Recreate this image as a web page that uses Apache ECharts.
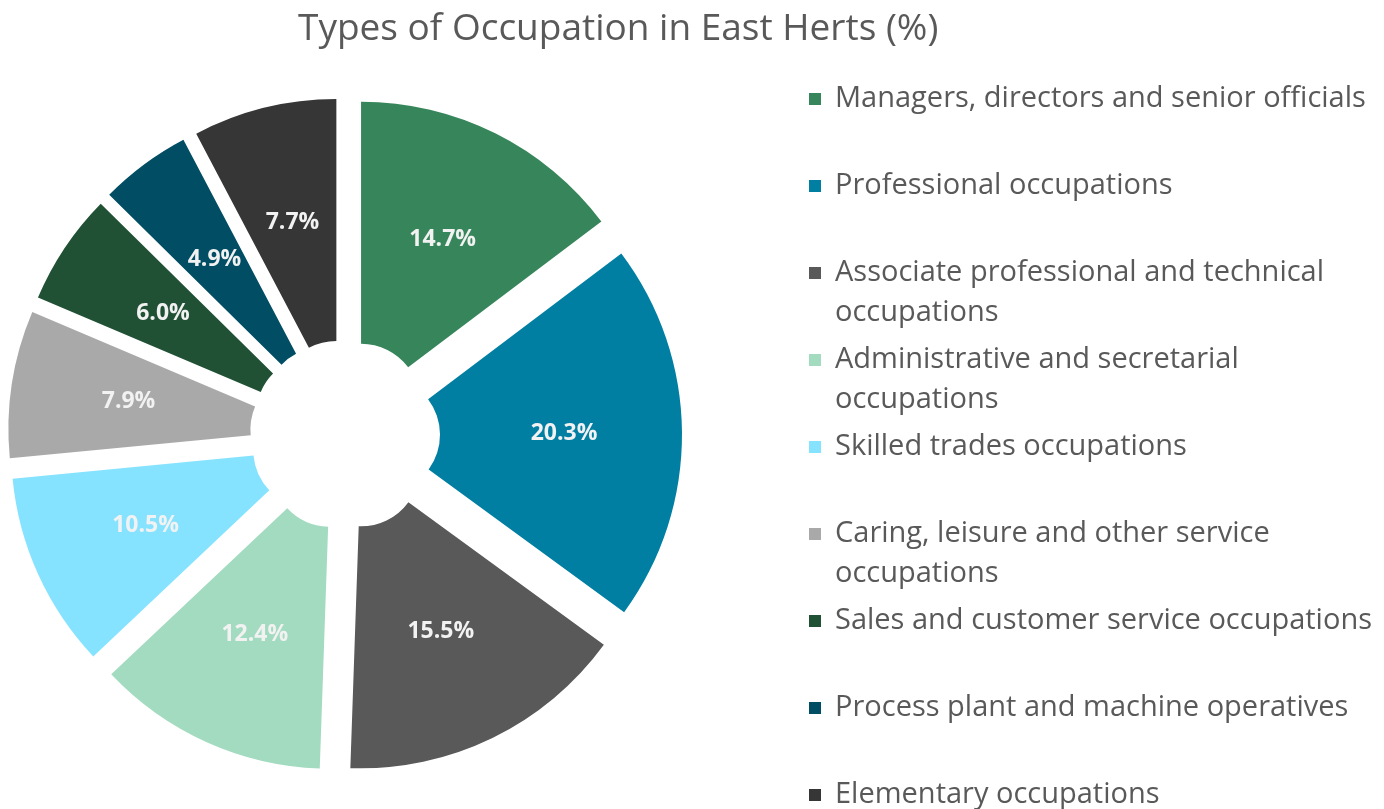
<!DOCTYPE html>
<html>
<head>
<meta charset="utf-8">
<script src="https://cdn.jsdelivr.net/npm/echarts@6/dist/echarts.min.js"></script>
<style>
  html, body { margin: 0; padding: 0; background: #fff; }
  #chart { width: 1384px; height: 809px; }
</style>
</head>
<body>
<div id="chart"></div>
<script>
const categories = [
  "Managers, directors and senior officials",
  "Professional occupations",
  "Associate professional and technical occupations",
  "Administrative and secretarial occupations",
  "Skilled trades occupations",
  "Caring, leisure and other service occupations",
  "Sales and customer service occupations",
  "Process plant and machine operatives",
  "Elementary occupations"
];
// wrapped legend text, as in the original
const legendLabels = [
  "Managers, directors and senior officials",
  "Professional occupations",
  "Associate professional and technical\noccupations",
  "Administrative and secretarial\noccupations",
  "Skilled trades occupations",
  "Caring, leisure and other service\noccupations",
  "Sales and customer service occupations",
  "Process plant and machine operatives",
  "Elementary occupations"
];
const values = [14.7, 20.3, 15.5, 12.4, 10.5, 7.9, 6.0, 4.9, 7.7];
const colors = ["#37865b", "#007fa3", "#595959", "#a2dbc0", "#86e3ff", "#a9a9a9", "#215135", "#004d64", "#363636"];

const chart = echarts.init(document.getElementById("chart"));

// every legend entry is padded to 3 lines so the icon sits on the first text line
const legendText = {};
categories.forEach((c, i) => {
  const parts = legendLabels[i].split("\n");
  legendText[c] = "\n" + parts[0] + "\n" + (parts[1] || "");
});

const option = {
  animation: false,
  title: {
    text: "Types of Occupation in East Herts (%)",
    left: 298,
    top: 11,
    padding: 0,
    textStyle: { fontFamily: "Open Sans", fontSize: 37, fontWeight: "normal", color: "#595959" }
  },
  legend: {
    orient: "vertical",
    left: 809,
    top: 39,
    height: 1200,
    padding: 0,
    itemGap: -33,
    itemWidth: 12,
    itemHeight: 12,
    icon: "rect",
    selectedMode: false,
    data: categories,
    formatter: name => legendText[name],
    textStyle: {
      fontFamily: "Open Sans",
      fontSize: 29,
      lineHeight: 40,
      color: "#595959",
      padding: [0, 0, 0, 9]
    }
  },
  series: [
    {
      type: "pie",
      center: [345, 435],
      radius: [59, 301],
      startAngle: 90,
      clockwise: true,
      selectedMode: "multiple",
      selectedOffset: 36,
      avoidLabelOverlap: false,
      emphasis: { scale: false },
      label: {
        show: true,
        position: "inside",
        padding: [8, 0, 0, 0],
        fontFamily: "Open Sans",
        fontSize: 23,
        fontWeight: "bold",
        color: "#f2f2f2",
        formatter: p => p.value.toFixed(1) + "%"
      },
      labelLine: { show: false },
      data: categories.map((c, i) => ({
        name: c,
        value: values[i],
        selected: true,
        itemStyle: { color: colors[i] },
        select: { itemStyle: { color: colors[i], borderWidth: 0 } }
      }))
    }
  ]
};
chart.setOption(option);
window.addEventListener("resize", function() {
  chart.resize();
});
</script>
</body>
</html>
